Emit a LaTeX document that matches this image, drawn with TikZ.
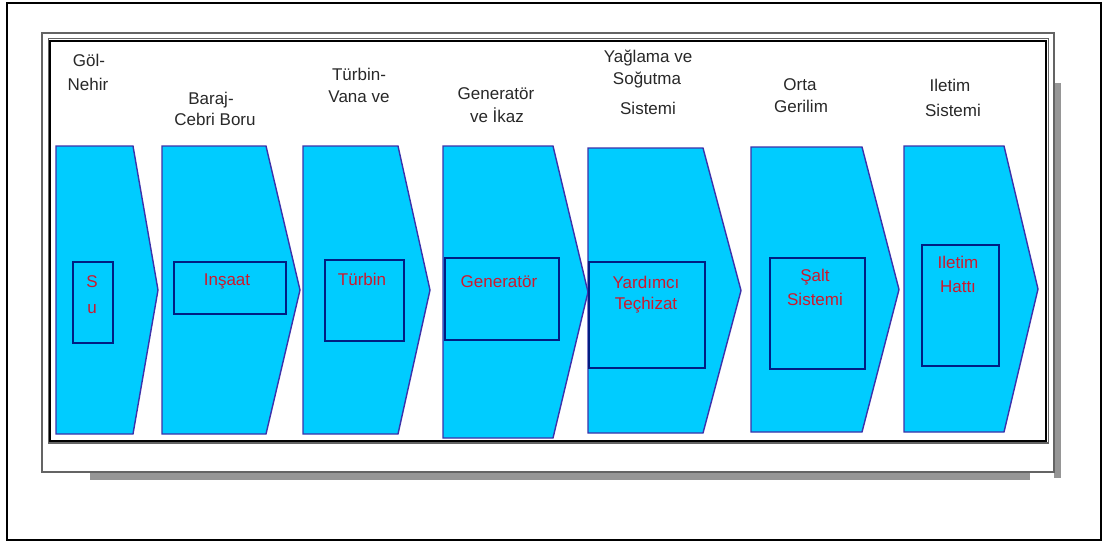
\documentclass[tikz,border=0pt]{standalone}
\usepackage{fontspec}
\setmainfont{Liberation Sans}
\definecolor{chevfill}{RGB}{0,204,255}
\definecolor{chevline}{RGB}{60,50,170}
\definecolor{boxline}{RGB}{0,30,130}
\definecolor{redtxt}{RGB}{205,25,45}
\definecolor{labtxt}{RGB}{40,40,40}
\definecolor{shadowgrey}{RGB}{150,150,150}
\definecolor{framegrey}{RGB}{100,100,100}
\tikzset{
  chev/.style={fill=chevfill, draw=chevline, line width=1.4pt, line join=miter},
  ibox/.style={draw=boxline, line width=2.2pt},
  lab/.style={text=labtxt, font=\fontsize{17}{20}\selectfont, inner sep=0pt, anchor=center},
  rlab/.style={text=redtxt, font=\fontsize{17}{20}\selectfont, inner sep=0pt, anchor=center},
}
\newcommand\mychev[6]{%
  \draw[chev] (#1,#4) -- (#2,#4) -- (#3,{(#4+#5)/2}) -- (#2,#5) -- (#1,#5) -- cycle;}
\begin{document}
\begin{tikzpicture}[x=1pt,y=-1pt]
\useasboundingbox (0,0) rectangle (1107,542);
% outer frame
\draw[black, line width=2pt] (7,3) rectangle (1101,540);
% shadows
\fill[shadowgrey] (90,472) rectangle (1030,480);
\fill[shadowgrey] (1054,83) rectangle (1061,478);
% grey frame
\draw[framegrey, line width=2.6pt, fill=white] (42,33) rectangle (1054,472);
% inner frame
\draw[framegrey, line width=1.2pt] (48.5,38.5) rectangle (1048.5,443);
\draw[black, line width=2.2pt] (50,41) rectangle (1046,441);
% chevrons
\mychev{56}{133}{158}{146}{434}{}
\mychev{162}{266}{300}{146}{434}{}
\mychev{303}{398}{430}{146}{434}{}
\mychev{443}{553}{588}{146}{438}{}
\mychev{588}{703}{741}{148}{433}{}
\mychev{751}{862}{899}{147}{432}{}
\mychev{904}{1004}{1038}{146}{432}{}
% inner boxes
\draw[ibox] (73,262) rectangle (113,343);
\draw[ibox] (174,262) rectangle (286,314);
\draw[ibox] (325,260) rectangle (404,341);
\draw[ibox] (445,258) rectangle (559,340);
\draw[ibox] (589,262) rectangle (705,368);
\draw[ibox] (770,258) rectangle (865,369);
\draw[ibox] (922,245) rectangle (999,366);
% top labels
\node[lab] (l1a) at (89,60) {Göl-};
\node[lab] (l1b) at (88,84) {Nehir};
\node[lab] (l2a) at (211,100) {Baraj-};
\node[lab] (l2b) at (215,119) {Cebri Boru};
\node[lab] (l3a) at (359,74) {Türbin-};
\node[lab] (l3b) at (359,97) {Vana ve};
\node[lab] (l4a) at (496,94) {Generatör};
\node[lab] (l4b) at (497,115) {ve İkaz};
\node[lab] (l5a) at (648,58) {Yağlama ve};
\node[lab] (l5b) at (647,80) {Soğutma};
\node[lab] (l5c) at (648,108) {Sistemi};
\node[lab] (l6a) at (800,85) {Orta};
\node[lab] (l6b) at (801,106) {Gerilim};
\node[lab] (l7a) at (950,85) {Iletim};
\node[lab] (l7b) at (953,110) {Sistemi};
% red labels
\node[rlab] (r1a) at (92,282) {S};
\node[rlab] (r1b) at (92,309) {u};
\node[rlab] (r2) at (227,281) {Inşaat};
\node[rlab] (r3) at (362,279) {Türbin};
\node[rlab] (r4) at (499,282) {Generatör};
\node[rlab] (r5a) at (646,282) {Yardımcı};
\node[rlab] (r5b) at (646,305) {Teçhizat};
\node[rlab] (r6a) at (815,277) {Şalt};
\node[rlab] (r6b) at (815,299) {Sistemi};
\node[rlab] (r7a) at (958,262) {Iletim};
\node[rlab] (r7b) at (958,287) {Hattı};
\end{tikzpicture}
\end{document}
